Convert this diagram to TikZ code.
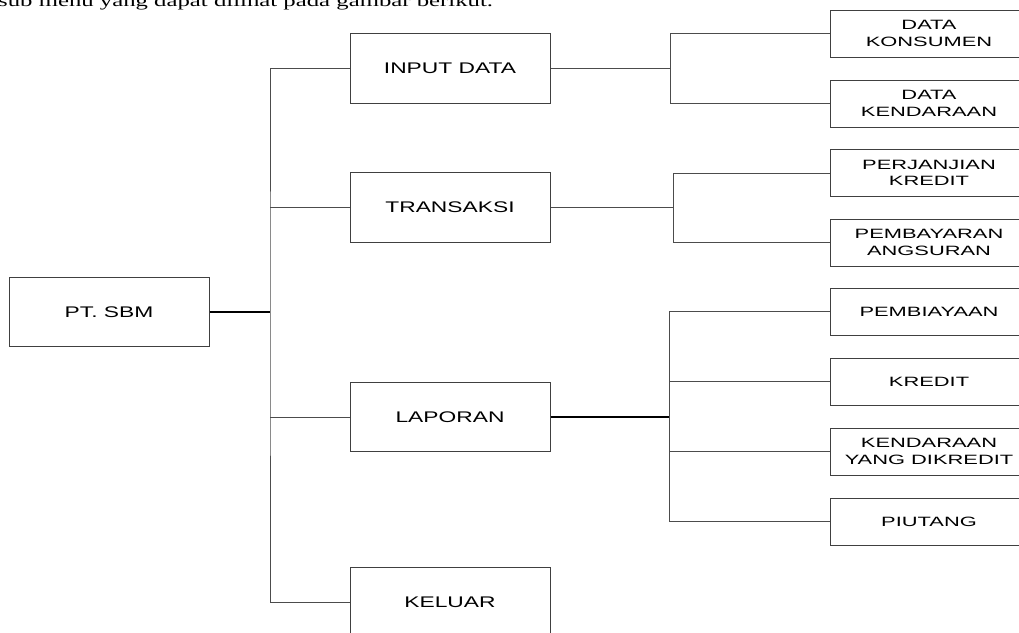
\documentclass[tikz,border=0pt]{standalone}
\usepackage{fontspec}
\setmainfont{Liberation Sans}
\newfontfamily\mainboxfont[FakeStretch=1.48]{Liberation Sans}
\newfontfamily\subboxfont[FakeStretch=1.62]{Liberation Sans}
\newfontfamily\topserif[FakeStretch=1.5]{Liberation Serif}
\begin{document}
\begin{tikzpicture}[x=1pt,y=-1pt,
  box/.style={draw=black!75, line width=1pt, inner sep=0pt, align=center},
  mainbox/.style={box, minimum width=200pt, minimum height=69.5pt, font=\mainboxfont\fontsize{15.4}{18}\selectfont},
  subbox/.style={box, minimum width=198pt, minimum height=47pt, font=\subboxfont\fontsize{13.5}{16.3}\selectfont},
  conn/.style={draw=black!70, line width=1pt},
  thickconn/.style={draw=black, line width=1.5pt}]
\useasboundingbox (0,0) rectangle (1019,632);

\node[anchor=base west, inner sep=0pt, font=\topserif\fontsize{16.5}{20}\selectfont] (top) at (-2,6) {sub menu yang dapat dilihat pada gambar berikut.};

\node[mainbox] (sbm) at (109,312) {PT. SBM};
\node[mainbox] (input) at (450,68.5) {INPUT DATA};
\node[mainbox] (trans) at (450,207.5) {TRANSAKSI};
\node[mainbox] (lap) at (450,417) {LAPORAN};
\node[mainbox] (kel) at (450,602) {KELUAR};

\node[subbox] (dk) at (929,33.5) {DATA\\KONSUMEN};
\node[subbox] (dken) at (929,103.5) {DATA\\KENDARAAN};
\node[subbox] (pk) at (929,173) {PERJANJIAN\\KREDIT};
\node[subbox] (pa) at (929,242.5) {PEMBAYARAN\\ANGSURAN};
\node[subbox] (pemb) at (929,311.5) {PEMBIAYAAN};
\node[subbox] (kred) at (929,381.5) {KREDIT};
\node[subbox] (kyd) at (929,451.5) {KENDARAAN\\YANG DIKREDIT};
\node[subbox] (piu) at (929,521.5) {PIUTANG};

% trunk
\coordinate (t) at (270,312);
\draw[conn] (input.west) -| (t) |- (kel.west);
\draw[conn] (trans.west) -- (trans.west -| t);
\draw[conn] (lap.west) -- (lap.west -| t);
\draw[thickconn] (sbm.east) -- (t);

% input data branch
\coordinate (ja) at (670,0);
\draw[conn] (input.east) -- (input.east -| ja);
\draw[conn] (dk.west) -| (ja |- dken.west) -- (dken.west);

% transaksi branch
\coordinate (jb) at (673,0);
\draw[conn] (trans.east) -- (trans.east -| jb);
\draw[conn] (pk.west) -| (jb |- pa.west) -- (pa.west);

% laporan branch
\coordinate (jc) at (669,0);
\draw[thickconn] (lap.east) -- (lap.east -| jc);
\draw[conn] (pemb.west) -| (jc |- piu.west) -- (piu.west);
\draw[conn] (kred.west) -- (kred.west -| jc);
\draw[conn] (kyd.west) -- (kyd.west -| jc);
\end{tikzpicture}
\end{document}
